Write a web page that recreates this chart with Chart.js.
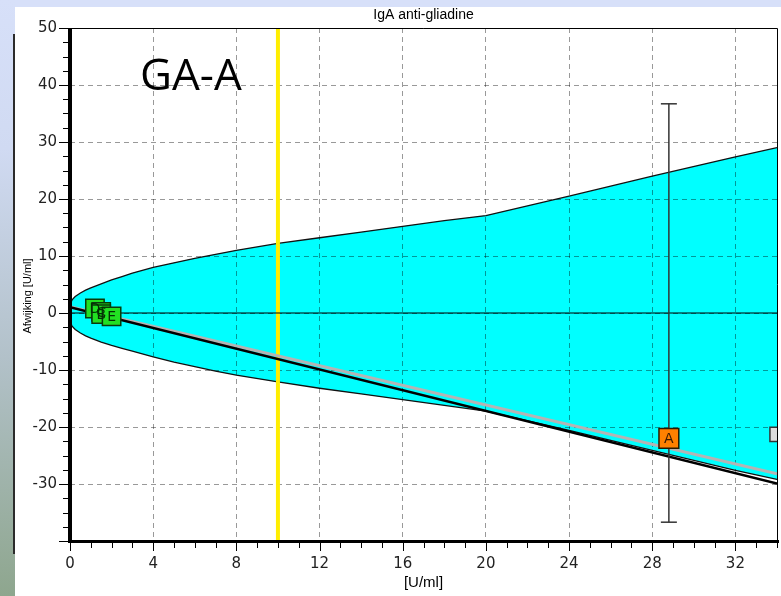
<!DOCTYPE html>
<html>
<head>
<meta charset="utf-8">
<script src="https://cdn.jsdelivr.net/npm/chart.js@4.4.1/dist/chart.umd.min.js"></script>
<style>
  body { margin: 0; width: 781px; height: 596px; overflow: hidden; background: #d7e0f9; position: relative; }
  #strip { position: absolute; left: 0; top: 0; width: 15px; height: 596px;
    background: linear-gradient(#d7e0f9 0%, #d0daf2 25%, #b2c1c9 60%, #8ea68e 100%); }
  #edge { position: absolute; left: 13px; top: 34px; width: 2px; height: 520px; background: #2b2b2b; }
  #panel { position: absolute; left: 15px; top: 7px; width: 766px; height: 589px; background: #fff; }
</style>
</head>
<body>
<div id="strip"></div>
<div id="edge"></div>
<div id="panel"><canvas id="chart" width="766" height="589"></canvas></div>
<script>
  // envelope (cyan band)
  const envX = [0, 0.1, 0.25, 0.5, 0.75, 1, 1.5, 2, 2.5, 3, 4, 5, 6, 7, 8, 10, 12, 14, 16, 18, 20, 24, 28, 32, 34];
  const envUpper = [1.5, 2.3, 2.9, 3.5, 4.0, 4.4, 5.1, 5.8, 6.4, 7.0, 8.0, 8.8, 9.6, 10.3, 11.0, 12.2, 13.2, 14.2, 15.2, 16.2, 17.1, 20.5, 24.0, 27.4, 29.0];
  const envLower = [-1.5, -2.3, -2.9, -3.5, -4.0, -4.4, -5.1, -5.7, -6.2, -6.7, -7.7, -8.6, -9.4, -10.2, -10.9, -12.1, -13.2, -14.2, -15.2, -16.2, -17.2, -20.6, -24.1, -27.6, -29.2];

  // regression lines
  const lineX = [0, 34];
  const blackLineY = [1.0, -29.9];
  const grayLineY = [1.1, -28.2];

  // cut-off
  const cutoffX = 10;

  // reference samples (green)
  const refLabels = ['D', 'C', 'B', 'E'];
  const refX = [1.2, 1.5, 1.5, 2.0];
  const refY = [0.8, 0.2, -0.2, -0.6];

  // sample A with error bar
  const sampleLabels = ['A'];
  const sampleX = [28.8];
  const sampleY = [-22.0];
  const sampleLow = [-36.7];
  const sampleHigh = [36.7];

  // point at the right edge
  const edgeX = [34.0];
  const edgeY = [-21.3];

  const xTickStep = 4;
  const yTickStep = 10;

  const pts = (xs, ys) => xs.map((x, i) => ({ x: x, y: ys[i] }));

  const boxLabelPlugin = {
    id: 'boxLabels',
    afterDatasetsDraw(chart) {
      const ctx = chart.ctx;
      chart.data.datasets.forEach((ds, di) => {
        if (!ds.boxLabels) return;
        const meta = chart.getDatasetMeta(di);
        ctx.save();
        ctx.font = '14px "DejaVu Sans"';
        ctx.textAlign = 'center';
        ctx.textBaseline = 'middle';
        ctx.fillStyle = ds.labelColor || '#000';
        meta.data.forEach((el, i) => ctx.fillText(ds.boxLabels[i], el.x, el.y + 1));
        ctx.restore();
      });
    }
  };

  const framePlugin = {
    id: 'frame',
    afterDraw(chart) {
      const ctx = chart.ctx;
      const a = chart.chartArea;
      const xs = chart.scales.x, ys = chart.scales.y;
      ctx.save();
      ctx.fillStyle = '#000';
      ctx.strokeStyle = '#000';
      // top and right border
      ctx.lineWidth = 1;
      ctx.beginPath();
      ctx.moveTo(a.left, a.top + 0.5);
      ctx.lineTo(a.right + 0.5, a.top + 0.5);
      ctx.lineTo(a.right + 0.5, a.bottom);
      ctx.stroke();
      // thick axes
      ctx.fillRect(a.left - 2, a.top, 4, a.bottom - a.top + 2);
      ctx.fillRect(a.left - 2, a.bottom - 1, a.right - a.left + 4, 3);
      // ticks
      ctx.lineWidth = 1;
      ctx.beginPath();
      for (let v = xs.min; v <= xs.max + 1e-9; v += 1) {
        const px = Math.round(xs.getPixelForValue(v)) + 0.5;
        const len = v % xTickStep === 0 ? 8 : 5;
        ctx.moveTo(px, a.bottom + 2);
        ctx.lineTo(px, a.bottom + 2 + len);
      }
      for (let v = ys.min; v <= ys.max + 1e-9; v += 2.5) {
        const py = Math.round(ys.getPixelForValue(v)) + 0.5;
        const len = v % yTickStep === 0 ? 9 : 5;
        ctx.moveTo(a.left - 2, py);
        ctx.lineTo(a.left - 2 - len, py);
      }
      ctx.stroke();
      // texts
      ctx.fillStyle = '#000';
      ctx.textAlign = 'center';
      ctx.textBaseline = 'middle';
      ctx.font = '14px "Liberation Sans"';
      ctx.fillText('IgA anti-gliadine', (a.left + a.right) / 2, 8);
      ctx.font = '15px "Liberation Sans"';
      ctx.fillText('[U/ml]', (a.left + a.right) / 2, 576);
      ctx.save();
      ctx.translate(13, 289);
      ctx.rotate(-Math.PI / 2);
      ctx.font = '11px "Liberation Sans"';
      ctx.fillText('Afwijking [U/ml]', 0, 0);
      ctx.restore();
      ctx.textAlign = 'left';
      ctx.textBaseline = 'alphabetic';
      ctx.font = '44px "Open Sans"';
      ctx.fillText('GA-A', a.left + 70, a.top + 62);
      ctx.restore();
    }
  };

  new Chart(document.getElementById('chart'), {
    type: 'scatter',
    data: {
      datasets: [
        {
          data: pts(envX, envUpper), showLine: true, fill: '+1', tension: 0,
          backgroundColor: '#00ffff', borderColor: '#111', borderWidth: 1.3,
          pointRadius: 0, order: 8
        },
        {
          data: pts(envX, envLower), showLine: true, fill: false, tension: 0,
          borderColor: '#111', borderWidth: 1.3,
          pointRadius: 0, order: 7
        },
        {
          data: [{ x: cutoffX, y: -40 }, { x: cutoffX, y: 50 }], showLine: true,
          borderColor: '#ffee00', borderWidth: 4, pointRadius: 0, order: 6
        },
        {
          data: [{ x: 0, y: 0 }, { x: 34, y: 0 }], showLine: true,
          borderColor: '#000', borderWidth: 1, pointRadius: 0, order: 5
        },
        {
          data: pts(lineX, grayLineY), showLine: true,
          borderColor: '#b4b4b4', borderWidth: 3, pointRadius: 0, order: 4
        },
        {
          data: pts(lineX, blackLineY), showLine: true,
          borderColor: '#000', borderWidth: 2.5, pointRadius: 0, order: 3
        },
        {
          data: [{ x: sampleX[0], y: sampleLow[0] }, { x: sampleX[0], y: sampleHigh[0] }], showLine: true,
          borderColor: '#333', borderWidth: 1.5, pointStyle: 'line', pointRadius: 8,
          pointBorderColor: '#333', pointBorderWidth: 1.5, order: 2
        },
        {
          data: pts(edgeX, edgeY), pointStyle: 'rect', pointRadius: 10,
          backgroundColor: '#dcdcdc', borderColor: '#333', borderWidth: 1.5, clip: 0, order: 1
        },
        {
          data: pts(refX, refY), pointStyle: 'rect', pointRadius: 13,
          backgroundColor: '#22e022', borderColor: '#0a3a0a', borderWidth: 1.5,
          boxLabels: refLabels, labelColor: '#053005', order: 0
        },
        {
          data: pts(sampleX, sampleY), pointStyle: 'rect', pointRadius: 14,
          backgroundColor: '#ff8000', borderColor: '#2a1a00', borderWidth: 1.5,
          boxLabels: sampleLabels, labelColor: '#3a1a00', order: 0
        }
      ]
    },
    options: {
      responsive: false,
      animation: false,
      events: [],
      layout: { autoPadding: false, padding: { top: 21, right: 4, left: 0, bottom: 0 } },
      plugins: {
        legend: { display: false },
        tooltip: { enabled: false },
        filler: { drawTime: 'beforeDraw' }
      },
      scales: {
        x: {
          type: 'linear', min: 0, max: 34,
          afterFit: s => { s.height = 55; s.paddingLeft = 0; s.paddingRight = 0; },
          ticks: {
            stepSize: xTickStep, includeBounds: false, padding: 14,
            color: '#222', font: { family: 'DejaVu Sans', size: 15 }, maxRotation: 0
          },
          grid: { color: 'rgba(0,0,0,0.4)', drawTicks: false, lineWidth: 1 },
          border: { display: false, dash: [5, 4] }
        },
        y: {
          type: 'linear', min: -40, max: 50,
          afterFit: s => { s.width = 55; s.paddingTop = 0; s.paddingBottom = 0; },
          ticks: {
            stepSize: yTickStep, padding: 13, color: '#222',
            font: { family: 'DejaVu Sans', size: 15 },
            callback: v => (v === -40 ? '' : v)
          },
          grid: { color: 'rgba(0,0,0,0.4)', drawTicks: false, lineWidth: 1 },
          border: { display: false, dash: [5, 4] }
        }
      }
    },
    plugins: [boxLabelPlugin, framePlugin]
  });
</script>
</body>
</html>
